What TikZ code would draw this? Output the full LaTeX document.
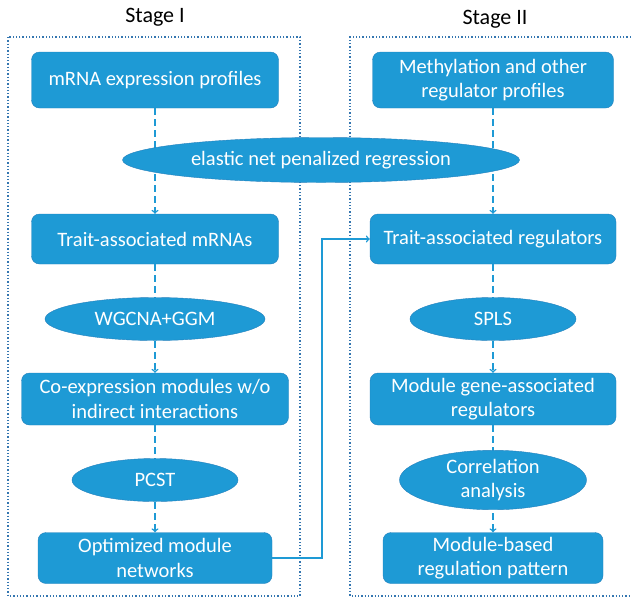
\documentclass[tikz,border=0pt]{standalone}
\usepackage{fontspec}
\setmainfont{Carlito}
\usetikzlibrary{arrows,shapes.geometric,positioning}
\definecolor{boxblue}{RGB}{30,154,213}
\definecolor{edgeblue}{RGB}{36,128,188}
\definecolor{frameblue}{RGB}{52,118,176}

\begin{document}
\begin{tikzpicture}[x=1pt,y=-1pt,
box/.style={rectangle, rounded corners=8pt, draw=edgeblue, fill=boxblue, text=white, font=\fontsize{20.5}{24.5}\selectfont, align=center, inner sep=2pt},
oval/.style={ellipse, draw=edgeblue, fill=boxblue, text=white, font=\fontsize{20.5}{24.5}\selectfont, align=center, inner sep=0pt, minimum height=43pt},
stage/.style={draw=frameblue, dotted, line width=1.3pt},
flow/.style={->, draw=boxblue, line width=1.5pt, dash pattern=on 7pt off 4pt},
link/.style={->, draw=boxblue, line width=1.5pt},
title/.style={font=\fontsize{22}{26}\selectfont},
]
\useasboundingbox (0,0) rectangle (631,598);

%Frames
\draw[stage] (8,37) rectangle (300,596);
\draw[stage] (631,37) -| (350,596) -- (631,596);
\node[title] (t1) at (155,17) {Stage I};
\node[title] (t2) at (495,19) {Stage II};

%Nodes
\node[box, minimum width=247pt, minimum height=56pt] (mrna)  at (155,80)  {mRNA expression profiles};
\node[box, minimum width=241pt, minimum height=56pt] (meth)  at (493,80)  {Methylation and other\\regulator profiles};
\node[box, minimum width=247pt, minimum height=50pt] (tmrna) at (155,239) {Trait-associated mRNAs};
\node[box, minimum width=246pt, minimum height=50pt] (treg)  at (493,239) {Trait-associated regulators};
\node[box, minimum width=267pt, minimum height=52pt] (coexp) at (155,399) {Co-expression modules w/o\\indirect interactions};
\node[box, minimum width=246pt, minimum height=52pt] (mreg)  at (493,399) {Module gene-associated\\regulators};
\node[box, minimum width=234pt, minimum height=51pt] (opt)   at (155,558) {Optimized module\\networks};
\node[box, minimum width=220pt, minimum height=51pt] (patt)  at (493,558) {Module-based\\regulation pattern};

%Lines
\draw[flow] (mrna) -- (tmrna);
\draw[flow] (meth) -- (treg);
\draw[flow] (tmrna) -- (coexp);
\draw[flow] (treg) -- (mreg);
\draw[flow] (coexp) -- (opt);
\draw[flow] (mreg) -- (patt);
\draw[link] (opt.east) -- ++(50,0) |- (treg.west);

%Methods
\node[oval, minimum width=397pt, minimum height=45pt] (enet) at (321,160) {elastic net penalized regression};
\node[oval, minimum width=220pt] (wgcna) at (155,319) {WGCNA+GGM};
\node[oval, minimum width=166pt] (spls)  at (493,319) {SPLS};
\node[oval, minimum width=166pt] (pcst)  at (155,480) {PCST};
\node[oval, minimum width=187pt] (corr)  at (493,480) {Correlation\\analysis};
\end{tikzpicture}
\end{document}
